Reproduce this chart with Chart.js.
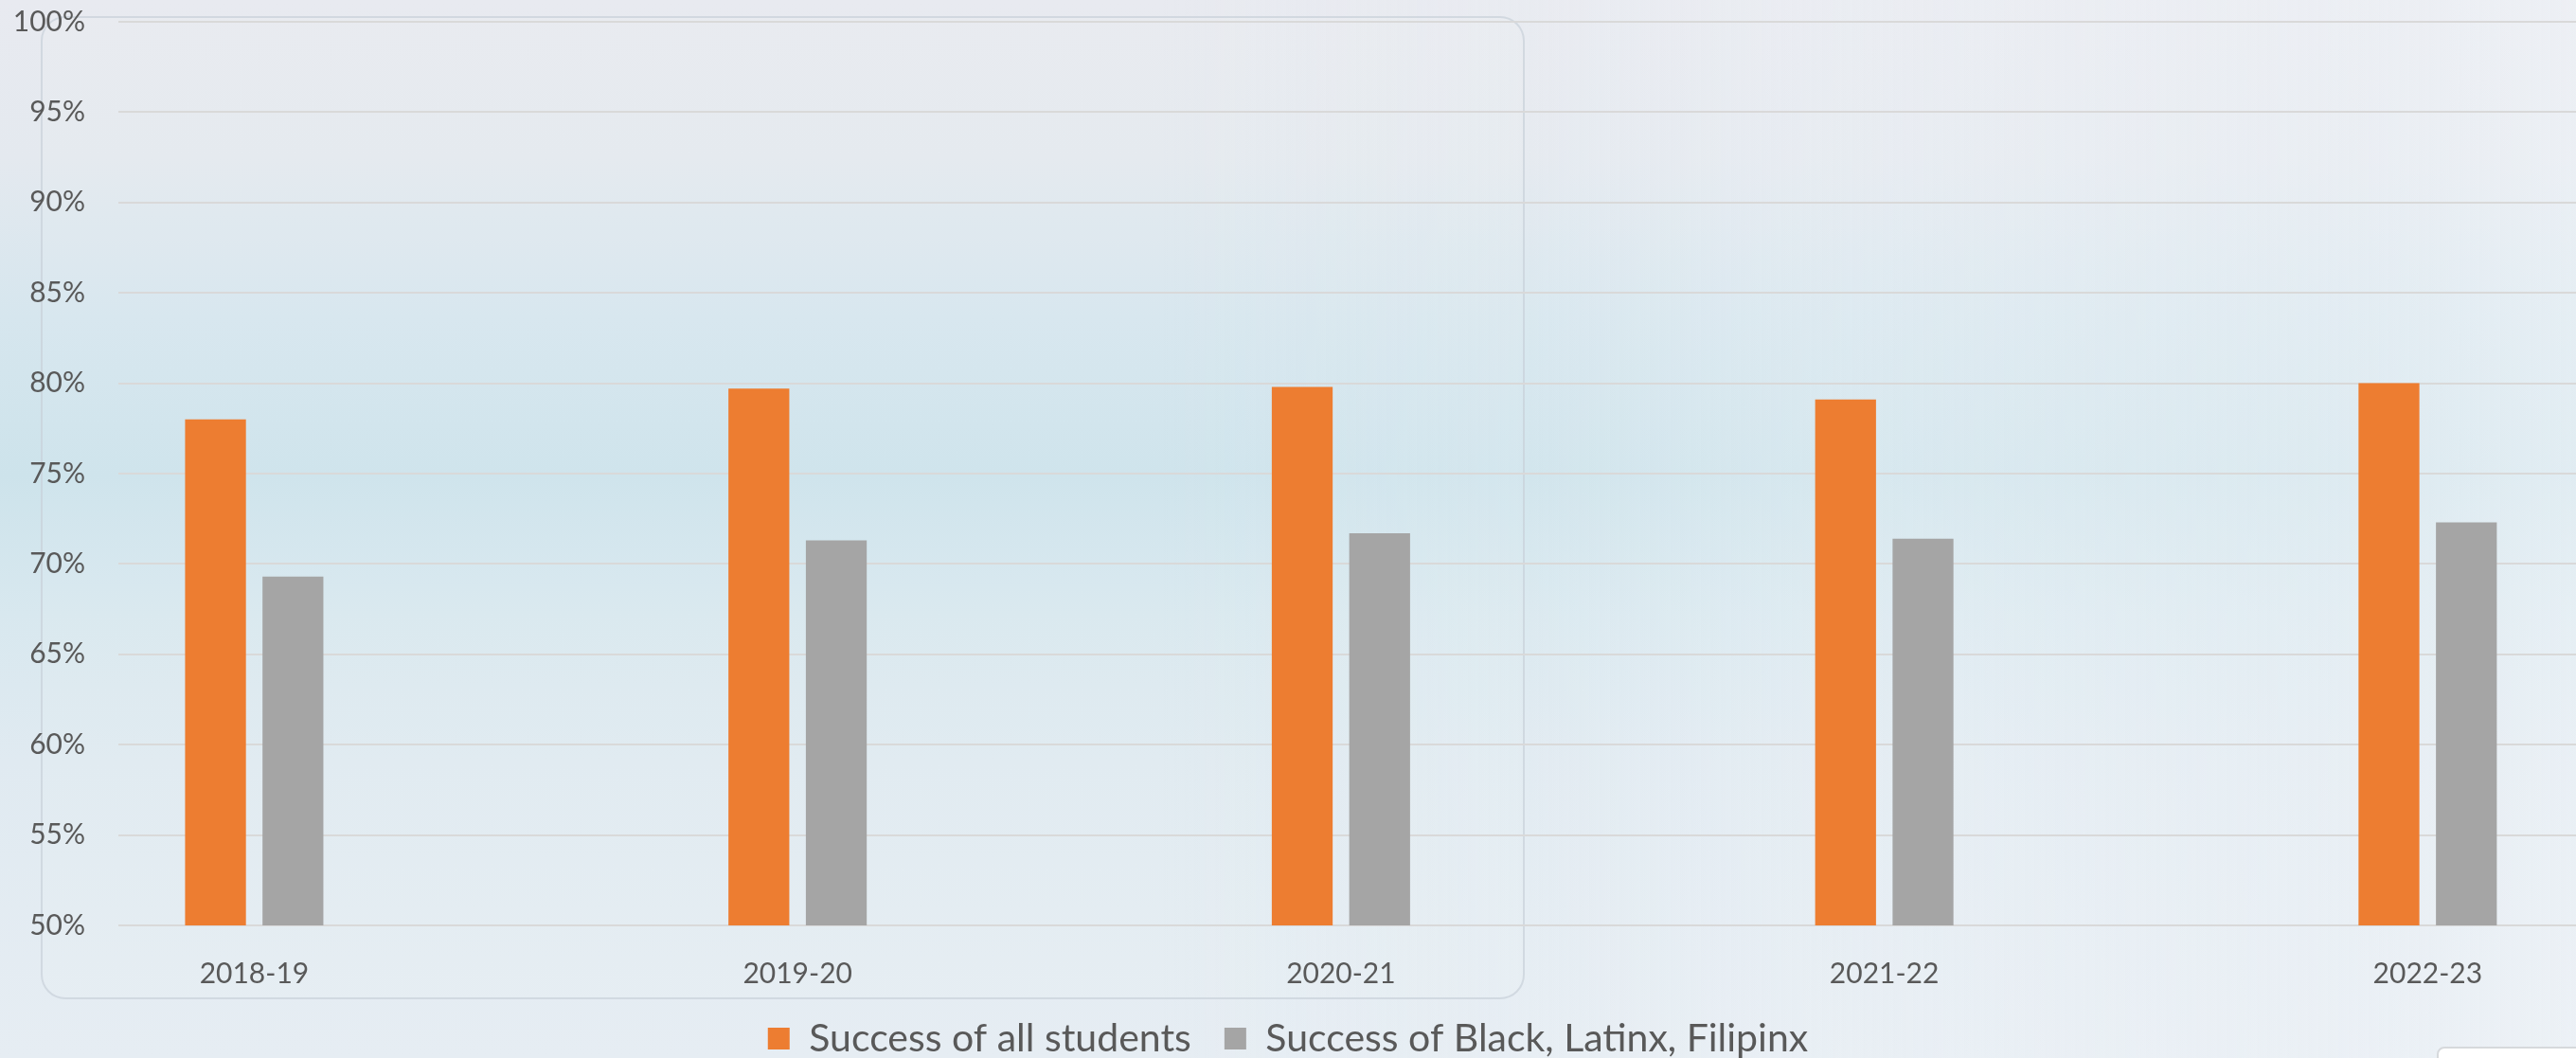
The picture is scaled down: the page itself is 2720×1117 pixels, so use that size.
<!DOCTYPE html>
<html>
<head>
<meta charset="utf-8">
<script src="https://cdn.jsdelivr.net/npm/chart.js@4"></script>
<style>
  html, body { margin: 0; padding: 0; overflow: hidden; }
  body {
    width: 2720px; height: 1117px;
    background:
      linear-gradient(90deg, rgba(240,243,247,0) 0%, rgba(240,243,247,0) 45%, rgba(241,244,248,0.55) 100%),
      linear-gradient(180deg, #e8eaf0 0%, #e4e9ef 15%, #d6e6ee 30%, #cde3eb 45%, #d8e8ef 58%, #e0eaf1 72%, #e6edf3 100%);
  }
  #wrap { position: absolute; left: 0; top: 0; width: 2720px; height: 1127px; }
  .frame {
    position: absolute; left: 43px; top: 17px; width: 1563px; height: 1034px;
    border: 2px solid rgba(200, 208, 216, 0.7); border-radius: 26px;
    background: rgba(255, 255, 255, 0.06);
  }
  .corner {
    position: absolute; left: 2573px; top: 1105px; width: 160px; height: 40px;
    background: #fff; border: 2px solid #d6d9dc; border-radius: 8px;
  }
</style>
</head>
<body>
<div class="frame"></div>
<div class="corner"></div>
<div id="wrap"><canvas id="chart"></canvas></div>
<script>
// ---------------- data ----------------
const years = ['2018-19', '2019-20', '2020-21', '2021-22', '2022-23'];
const allStudents = [78.0, 79.7, 79.8, 79.1, 80.0];
const blfStudents = [69.3, 71.3, 71.7, 71.4, 72.3];
const yTicks = [50, 55, 60, 65, 70, 75, 80, 85, 90, 95, 100];
const seriesNames = ['Success of all students', 'Success of Black, Latinx, Filipinx'];

const toPoints = (vals) => vals.map((v, i) => ({ x: i, y: v }));

const textColor = '#595959';

new Chart(document.getElementById('chart'), {
  type: 'bar',
  data: {
    datasets: [
      {
        label: seriesNames[0],
        data: toPoints(allStudents),
        backgroundColor: '#ED7D31',
        borderWidth: 0,
        categoryPercentage: 0.285,
        barPercentage: 0.786,
      },
      {
        label: seriesNames[1],
        data: toPoints(blfStudents),
        backgroundColor: '#A5A5A5',
        borderWidth: 0,
        categoryPercentage: 0.285,
        barPercentage: 0.786,
      },
    ],
  },
  options: {
    responsive: true,
    maintainAspectRatio: false,
    animation: false,
    devicePixelRatio: 1,
    layout: { padding: { left: 0, right: 0, top: 23, bottom: 0 } },
    plugins: {
      tooltip: { enabled: false },
      legend: {
        position: 'bottom',
        labels: {
          color: textColor,
          font: { family: 'Lato', size: 41 },
          boxWidth: 23,
          boxHeight: 23,
          padding: 35,
        },
      },
    },
    scales: {
      x: {
        type: 'linear',
        min: -0.25,
        max: 4.273,
        offset: false,
        grid: { display: false, offset: false },
        border: { display: false },
        // keep only the five year positions as ticks
        afterBuildTicks: (scale) => {
          scale.ticks = scale.ticks.filter((t) => Number.isInteger(t.value) && t.value >= 0 && t.value < years.length);
        },
        afterFit: (scale) => { scale.height = 64; },
        ticks: {
          stepSize: 1,
          autoSkip: false,
          maxRotation: 0,
          padding: 31,
          color: textColor,
          font: { family: 'Lato', size: 30, lineHeight: 0.8 },
          callback: (v) => years[v],
        },
      },
      y: {
        min: yTicks[0],
        max: yTicks[yTicks.length - 1],
        afterBuildTicks: (scale) => { scale.ticks = yTicks.map((v) => ({ value: v })); },
        afterFit: (scale) => {
          scale.width = 125;
          scale.paddingTop = 18;
          scale.paddingBottom = 18;
        },
        grid: { color: '#d9d9d9', lineWidth: 2, drawTicks: false },
        border: { display: false },
        ticks: {
          padding: 35,
          color: textColor,
          font: { family: 'Lato', size: 30 },
          callback: (v) => v + '%',
        },
      },
    },
  },
});
</script>
</body>
</html>
